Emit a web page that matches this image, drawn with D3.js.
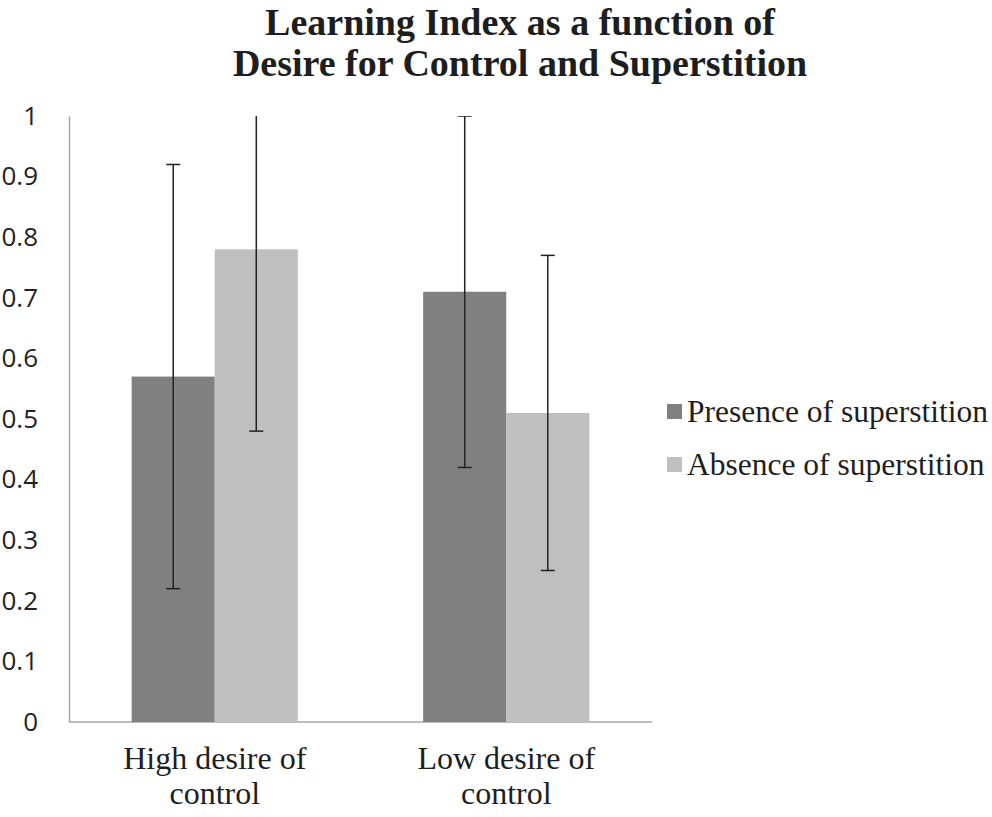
<!DOCTYPE html>
<html>
<head>
<meta charset="utf-8">
<script src="https://cdn.jsdelivr.net/npm/d3@7"></script>
<style>
  body { margin: 0; background: #fff; }
</style>
</head>
<body>
<svg class="chart"></svg>
<script>
var width = 992,
    height = 817;

// data
var categories = ["High desire of control", "Low desire of control"];
var categoryLines = [["High desire of", "control"], ["Low desire of", "control"]];
var seriesNames = ["Presence of superstition", "Absence of superstition"];
var presence = [0.57, 0.71];
var absence = [0.78, 0.51];
var presenceErr = [0.35, 0.29];
var absenceErr = [0.30, 0.26];
var yTicks = [0, 0.1, 0.2, 0.3, 0.4, 0.5, 0.6, 0.7, 0.8, 0.9, 1];
var colors = ["#808080", "#bfbfbf"];

var serif = "Liberation Serif, Times New Roman, serif";

var margin = {left: 69, right: 340, top: 116, bottom: 95};
var plotW = width - margin.left - margin.right,
    plotH = height - margin.top - margin.bottom;

var chart = d3.select(".chart")
    .attr("width", width)
    .attr("height", height);

var y = d3.scaleLinear().domain([0, 1]).range([plotH, 0]);
var x0 = d3.scaleBand().domain(categories).range([0, plotW]).paddingInner(0.43).paddingOuter(0.215);
var x1 = d3.scaleBand().domain(seriesNames).range([0, x0.bandwidth()]);

var g = chart.append("g").attr("transform", "translate(" + margin.left + "," + margin.top + ")");

chart.append("defs").append("clipPath").attr("id", "plotclip")
  .append("rect").attr("x", 0).attr("y", 0).attr("width", plotW).attr("height", plotH);

// title
chart.append("text")
    .attr("x", 520).attr("y", 35)
    .attr("text-anchor", "middle")
    .style("font-family", serif)
    .style("font-weight", "bold").style("font-size", "38px").style("fill", "#1e1e1e")
    .text("Learning Index as a function of");
chart.append("text")
    .attr("x", 520).attr("y", 76)
    .attr("text-anchor", "middle")
    .style("font-family", serif)
    .style("font-weight", "bold").style("font-size", "38px").style("fill", "#1e1e1e")
    .text("Desire for Control and Superstition");

// y axis
var yAxis = d3.axisLeft(y).tickValues(yTicks).tickSize(0).tickPadding(31)
    .tickFormat(function(d) { return d === 0 || d === 1 ? d3.format("d")(d) : d3.format(".1f")(d); });
var ya = g.append("g").call(yAxis);
ya.select(".domain").attr("stroke", "#a6a6a6").attr("stroke-width", 1.5);
ya.selectAll("text")
    .style("font-family", "Open Sans, Noto Sans, sans-serif")
    .style("font-size", "26px").style("fill", "#222");

// x axis line
g.append("line")
    .attr("x1", 0).attr("x2", plotW)
    .attr("y1", y(0)).attr("y2", y(0))
    .attr("stroke", "#a6a6a6").attr("stroke-width", 1.5);

var rows = categories.map(function(c, i) {
  return {cat: c, vals: [
    {s: seriesNames[0], v: presence[i], e: presenceErr[i], c: colors[0]},
    {s: seriesNames[1], v: absence[i], e: absenceErr[i], c: colors[1]}
  ]};
});

var grp = g.selectAll(".grp")
    .data(rows)
  .enter().append("g")
    .attr("class", "grp")
    .attr("transform", function(d) { return "translate(" + x0(d.cat) + ",0)"; });

grp.selectAll("rect")
    .data(function(d) { return d.vals; })
  .enter().append("rect")
    .attr("x", function(d) { return x1(d.s); })
    .attr("width", x1.bandwidth())
    .attr("y", function(d) { return y(d.v); })
    .attr("height", function(d) { return y(0) - y(d.v); })
    .attr("fill", function(d) { return d.c; });

// error bars (clipped at top of the plot like the original)
var eb = g.append("g").attr("clip-path", "url(#plotclip)");
rows.forEach(function(r) {
  r.vals.forEach(function(d) {
    var cx = x0(r.cat) + x1(d.s) + x1.bandwidth() / 2;
    var hi = d.v + d.e, lo = d.v - d.e;
    eb.append("line")
        .attr("x1", cx).attr("x2", cx)
        .attr("y1", y(hi)).attr("y2", y(lo))
        .attr("stroke", "#222").attr("stroke-width", 1.5);
    [hi, lo].forEach(function(v) {
      eb.append("line")
          .attr("x1", cx - 7).attr("x2", cx + 7)
          .attr("y1", y(v)).attr("y2", y(v))
          .attr("stroke", "#222").attr("stroke-width", 1.5);
    });
  });
});

// category labels
categories.forEach(function(c, i) {
  var cx = x0(c) + x0.bandwidth() / 2;
  categoryLines[i].forEach(function(t, j) {
    g.append("text")
        .attr("x", cx).attr("y", y(0) + 47 + j * 35)
        .attr("text-anchor", "middle")
        .style("font-family", serif)
        .style("font-size", "32px").style("fill", "#1e1e1e")
        .text(t);
  });
});

// legend
var leg = chart.selectAll(".leg")
    .data(seriesNames)
  .enter().append("g")
    .attr("class", "leg")
    .attr("transform", function(d, i) { return "translate(667," + (411.5 + i * 53) + ")"; });
leg.append("rect")
    .attr("x", 0).attr("y", -7.5).attr("width", 15).attr("height", 15)
    .attr("fill", function(d, i) { return colors[i]; });
leg.append("text")
    .attr("x", 20).attr("y", 10.5)
    .style("font-family", serif)
    .style("font-size", "31.5px").style("fill", "#1e1e1e")
    .text(function(d) { return d; });
</script>
</body>
</html>
